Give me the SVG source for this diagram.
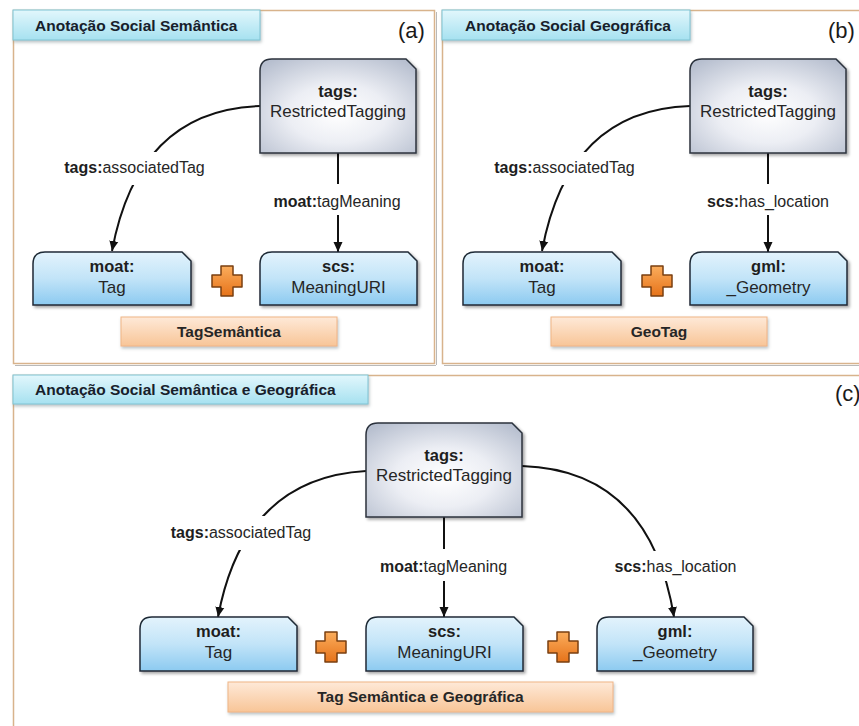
<svg xmlns="http://www.w3.org/2000/svg" xmlns:xlink="http://www.w3.org/1999/xlink" width="859" height="726" viewBox="0 0 859 726">
  <defs>
    <radialGradient id="rtGrad" cx="50%" cy="58%" r="70%">
      <stop offset="0" stop-color="#ffffff"/>
      <stop offset="0.45" stop-color="#eceef4"/>
      <stop offset="1" stop-color="#b7bfcf"/>
    </radialGradient>
    <linearGradient id="blueGrad" x1="0" y1="0" x2="0" y2="1">
      <stop offset="0" stop-color="#e3f3fc"/>
      <stop offset="0.5" stop-color="#c2e4f8"/>
      <stop offset="1" stop-color="#8ccaf0"/>
    </linearGradient>
    <linearGradient id="titleGrad" x1="0" y1="0" x2="0" y2="1">
      <stop offset="0" stop-color="#e2f7fc"/>
      <stop offset="1" stop-color="#a6e1f0"/>
    </linearGradient>
    <linearGradient id="orangeGrad" x1="0" y1="0" x2="0" y2="1">
      <stop offset="0" stop-color="#fee9d8"/>
      <stop offset="1" stop-color="#f8c597"/>
    </linearGradient>
    <linearGradient id="plusGrad" x1="0" y1="0" x2="0" y2="1">
      <stop offset="0" stop-color="#fbad5c"/>
      <stop offset="1" stop-color="#e6731a"/>
    </linearGradient>
    <filter id="shadow" x="-10%" y="-10%" width="125%" height="130%">
      <feDropShadow dx="2" dy="2" stdDeviation="1.5" flood-color="#000" flood-opacity="0.35"/>
    </filter>
    <filter id="softShadow" x="-5%" y="-10%" width="115%" height="140%">
      <feDropShadow dx="1" dy="2" stdDeviation="1.5" flood-color="#6a7a80" flood-opacity="0.45"/>
    </filter>
    <marker id="arrow" markerWidth="11" markerHeight="11" refX="10" refY="5.5" orient="auto" markerUnits="userSpaceOnUse">
      <path d="M0,1 L10,5.5 L0,10 Z" fill="#111"/>
    </marker>
    <!-- orange plus sign centred on the origin -->
    <path id="plus" d="M-6,-15 H6 V-6 H15 V6 H6 V15 H-6 V6 H-15 V-6 H-6 Z"/>
  </defs>
  <style>
    .panel { fill: #ffffff; stroke: #d8b38c; stroke-width: 1.5; }
    .panelShade { fill: none; stroke: #b9b9b9; stroke-width: 1; }
    .title { fill: url(#titleGrad); stroke: #7fc3d3; stroke-width: 1; filter: url(#softShadow); }
    .titleText { font-family: "Liberation Sans", Arial, sans-serif; font-size: 15.5px; font-weight: bold; fill: #17202b; }
    .tagLetter { font-family: "Liberation Sans", Arial, sans-serif; font-size: 22px; fill: #1a1a1a; }
    .rt { fill: url(#rtGrad); stroke: #2c333d; stroke-width: 1.5; filter: url(#shadow); }
    .cls { fill: url(#blueGrad); stroke: #1f2a36; stroke-width: 1.5; filter: url(#shadow); }
    .result { fill: url(#orangeGrad); stroke: #f0b586; stroke-width: 1; filter: url(#softShadow); }
    .plus { fill: url(#plusGrad); stroke: #7a3f10; stroke-width: 1.5; stroke-linejoin: round; }
    .nodeBold { font-family: "Liberation Sans", Arial, sans-serif; font-size: 16.5px; font-weight: bold; fill: #1e1e1e; text-anchor: middle; }
    .nodeText { font-family: "Liberation Sans", Arial, sans-serif; font-size: 17px; fill: #262626; text-anchor: middle; }
    .resultText { font-family: "Liberation Sans", Arial, sans-serif; font-size: 15.5px; font-weight: bold; fill: #262626; text-anchor: middle; }
    .edge { fill: none; stroke: #111; stroke-width: 2; marker-end: url(#arrow); }
    .labelBg { fill: #ffffff; }
    .edgeLabel { font-family: "Liberation Sans", Arial, sans-serif; font-size: 16px; fill: #262626; text-anchor: middle; }
    .edgeLabel .pfx { font-weight: bold; fill: #1e1e1e; }
  </style>

  <rect width="859" height="726" fill="#ffffff"/>

  <!-- panel frames -->
  <g id="frames">
    <rect class="panel" x="13.5" y="10.5" width="421" height="353"/>
    <path class="panelShade" d="M15,365.5 H436 M436.5,12 V365"/>
    <rect class="panel" x="442.5" y="10.5" width="430" height="353"/>
    <path class="panelShade" d="M444,365.5 H859"/>
    <rect class="panel" x="13.5" y="375.5" width="860" height="360"/>
  </g>

  <!-- panel (a): semantic social annotation -->
  <g id="title-a">
    <rect class="title" x="13" y="10" width="247" height="30"/>
    <text class="titleText" x="35" y="31">Anotação Social Semântica</text>
  </g>
  <text id="label-a" class="tagLetter" x="398" y="38">(a)</text>

  <!-- panel (b): geographic social annotation -->
  <g id="title-b">
    <rect class="title" x="442" y="10" width="248" height="30"/>
    <text class="titleText" x="465" y="31">Anotação Social Geográfica</text>
  </g>
  <text id="label-b" class="tagLetter" x="828" y="38">(b)</text>

  <!-- panel (c): semantic and geographic social annotation -->
  <g id="title-c">
    <rect class="title" x="13" y="375" width="355" height="29"/>
    <text class="titleText" x="35" y="395">Anotação Social Semântica e Geográfica</text>
  </g>
  <text id="label-c" class="tagLetter" x="835" y="401">(c)</text>

  <!-- connectors -->
  <g id="connectors">
    <!-- (a) -->
    <path class="edge" d="M260,106 Q138,110 112,251"/>
    <path class="edge" d="M338,153 V252"/>
    <!-- (b) -->
    <path class="edge" d="M690,106 Q568,110 542,251"/>
    <path class="edge" d="M768,153 V252"/>
    <!-- (c) -->
    <path class="edge" d="M366,471 Q244,478 218,617"/>
    <path class="edge" d="M444,517 V617"/>
    <path class="edge" d="M522,466 Q650,470 674,617"/>

    <!-- labels with a clearing behind them -->
    <rect class="labelBg" x="60" y="152" width="150" height="33"/>
    <text class="edgeLabel" x="134.5" y="173"><tspan class="pfx">tags:</tspan>associatedTag</text>
    <rect class="labelBg" x="270" y="184" width="134" height="31"/>
    <text class="edgeLabel" x="337" y="207"><tspan class="pfx">moat:</tspan>tagMeaning</text>

    <rect class="labelBg" x="490" y="152" width="150" height="33"/>
    <text class="edgeLabel" x="564.5" y="173"><tspan class="pfx">tags:</tspan>associatedTag</text>
    <rect class="labelBg" x="703" y="184" width="130" height="31"/>
    <text class="edgeLabel" x="768" y="207"><tspan class="pfx">scs:</tspan>has_location</text>

    <rect class="labelBg" x="166" y="516" width="150" height="34"/>
    <text class="edgeLabel" x="241" y="538"><tspan class="pfx">tags:</tspan>associatedTag</text>
    <rect class="labelBg" x="376" y="549" width="135" height="32"/>
    <text class="edgeLabel" x="443.5" y="572"><tspan class="pfx">moat:</tspan>tagMeaning</text>
    <rect class="labelBg" x="610" y="551" width="132" height="30"/>
    <text class="edgeLabel" x="675.5" y="572"><tspan class="pfx">scs:</tspan>has_location</text>
  </g>

  <!-- panel (a) nodes -->
  <g id="a-restrictedTagging">
    <path class="rt" d="M260,153 V71 Q260,59 272,59 H406 L416,69 V153 Z"/>
    <text class="nodeBold" x="338" y="97">tags:</text>
    <text class="nodeText" x="338" y="117">RestrictedTagging</text>
  </g>
  <g id="a-tag">
    <path class="cls" d="M33,305 V264 Q33,252 45,252 H182 L191,261 V305 Z"/>
    <text class="nodeBold" x="112" y="272">moat:</text>
    <text class="nodeText" x="112" y="293">Tag</text>
  </g>
  <g id="a-meaningURI">
    <path class="cls" d="M260,305 V264 Q260,252 272,252 H408 L417,261 V305 Z"/>
    <text class="nodeBold" x="338.5" y="272">scs:</text>
    <text class="nodeText" x="338.5" y="293">MeaningURI</text>
  </g>
  <g id="a-plus">
    <use href="#plus" class="plus" x="227" y="281"/>
  </g>
  <g id="a-tagSemantica">
    <rect class="result" x="121" y="317" width="216" height="29"/>
    <text class="resultText" x="229" y="337">TagSemântica</text>
  </g>

  <!-- panel (b) nodes -->
  <g id="b-restrictedTagging">
    <path class="rt" d="M690,153 V71 Q690,59 702,59 H836 L846,69 V153 Z"/>
    <text class="nodeBold" x="768" y="97">tags:</text>
    <text class="nodeText" x="768" y="117">RestrictedTagging</text>
  </g>
  <g id="b-tag">
    <path class="cls" d="M463,305 V264 Q463,252 475,252 H612 L621,261 V305 Z"/>
    <text class="nodeBold" x="542" y="272">moat:</text>
    <text class="nodeText" x="542" y="293">Tag</text>
  </g>
  <g id="b-geometry">
    <path class="cls" d="M690,305 V264 Q690,252 702,252 H838 L847,261 V305 Z"/>
    <text class="nodeBold" x="768.5" y="272">gml:</text>
    <text class="nodeText" x="768.5" y="293">_Geometry</text>
  </g>
  <g id="b-plus">
    <use href="#plus" class="plus" x="657" y="281"/>
  </g>
  <g id="b-geoTag">
    <rect class="result" x="551" y="317" width="216" height="29"/>
    <text class="resultText" x="659" y="337">GeoTag</text>
  </g>

  <!-- panel (c) nodes -->
  <g id="c-restrictedTagging">
    <path class="rt" d="M366,517 V435 Q366,423 378,423 H512 L522,433 V517 Z"/>
    <text class="nodeBold" x="444" y="461">tags:</text>
    <text class="nodeText" x="444" y="481">RestrictedTagging</text>
  </g>
  <g id="c-tag">
    <path class="cls" d="M140,671 V629 Q140,617 152,617 H288 L297,626 V671 Z"/>
    <text class="nodeBold" x="218.5" y="637">moat:</text>
    <text class="nodeText" x="218.5" y="658">Tag</text>
  </g>
  <g id="c-meaningURI">
    <path class="cls" d="M366,671 V629 Q366,617 378,617 H514 L523,626 V671 Z"/>
    <text class="nodeBold" x="444.5" y="637">scs:</text>
    <text class="nodeText" x="444.5" y="658">MeaningURI</text>
  </g>
  <g id="c-geometry">
    <path class="cls" d="M597,671 V629 Q597,617 609,617 H744 L753,626 V671 Z"/>
    <text class="nodeBold" x="675" y="637">gml:</text>
    <text class="nodeText" x="675" y="658">_Geometry</text>
  </g>
  <g id="c-plus1">
    <use href="#plus" class="plus" x="331" y="647"/>
  </g>
  <g id="c-plus2">
    <use href="#plus" class="plus" x="563" y="647"/>
  </g>
  <g id="c-tagSemanticaGeografica">
    <rect class="result" x="228" y="682" width="385" height="30"/>
    <text class="resultText" x="420.5" y="702">Tag Semântica e Geográfica</text>
  </g>
</svg>
